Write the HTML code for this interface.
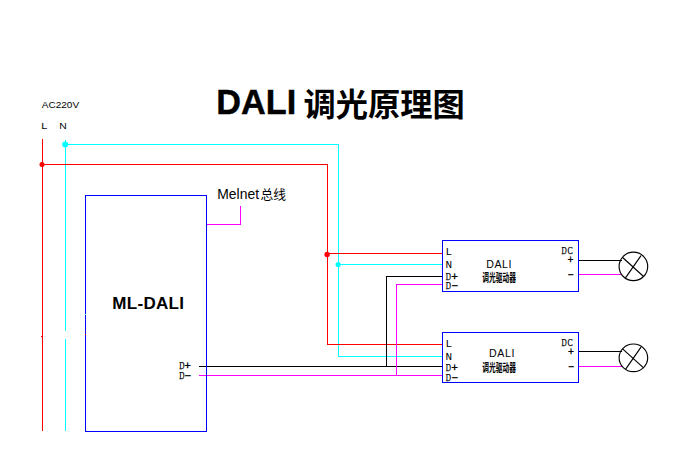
<!DOCTYPE html>
<html><head><meta charset="utf-8"><title>DALI</title>
<style>
html,body{margin:0;padding:0;background:#fff;}
body{width:687px;height:451px;overflow:hidden;font-family:"Liberation Sans",sans-serif;}
svg{display:block;}
.s{font-family:"Liberation Sans",sans-serif;}
.m{font-family:"Liberation Mono",monospace;font-size:11px;}
</style></head><body>
<svg width="687" height="451" viewBox="0 0 687 451">
<rect width="687" height="451" fill="#fff"/>
<g shape-rendering="crispEdges"><g fill="#00ffff"><rect x="65" y="140" width="1" height="191"/><rect x="65" y="339" width="1" height="92"/><rect x="65" y="144" width="274" height="1"/><rect x="338" y="144" width="1" height="213"/><rect x="338" y="264" width="105" height="1"/><rect x="338" y="356" width="105" height="1"/><rect x="85" y="314" width="1" height="1"/></g><g fill="#ff0000"><rect x="42" y="139" width="1" height="292"/><rect x="42" y="164" width="286" height="1"/><rect x="327" y="164" width="1" height="181"/><rect x="327" y="253" width="116" height="1"/><rect x="327" y="344" width="116" height="1"/><rect x="41" y="336" width="1" height="1"/><rect x="85" y="334" width="1" height="1"/></g><g fill="#000000"><rect x="199" y="366" width="244" height="1"/><rect x="386" y="276" width="1" height="91"/><rect x="386" y="276" width="57" height="1"/><rect x="578" y="260" width="44" height="1"/><rect x="578" y="351" width="44" height="1"/></g><g fill="#ff00ff"><rect x="199" y="375" width="244" height="1"/><rect x="396" y="284" width="1" height="92"/><rect x="396" y="284" width="47" height="1"/><rect x="206" y="224" width="35" height="1"/><rect x="240" y="206" width="1" height="19"/><rect x="578" y="274" width="44" height="1"/><rect x="578" y="366" width="44" height="1"/></g><g fill="#0000ff"><rect x="85" y="195" width="122" height="1"/><rect x="85" y="431" width="122" height="1"/><rect x="85" y="195" width="1" height="237"/><rect x="206" y="195" width="1" height="237"/><rect x="442" y="240" width="137" height="1"/><rect x="442" y="291" width="137" height="1"/><rect x="442" y="240" width="1" height="52"/><rect x="578" y="240" width="1" height="52"/><rect x="442" y="332" width="137" height="1"/><rect x="442" y="382" width="137" height="1"/><rect x="442" y="332" width="1" height="51"/><rect x="578" y="332" width="1" height="51"/></g><rect x="85" y="334" width="1" height="1" fill="#ff0000"/><rect x="85" y="314" width="1" height="1" fill="#00ffff"/></g>
<circle cx="42.0" cy="164.5" r="2.5" fill="#ff0000"/><circle cx="327.1" cy="254.5" r="2.7" fill="#ff0000"/><circle cx="65.2" cy="144.5" r="3" fill="#00ffff"/><circle cx="338.2" cy="264.5" r="2.6" fill="#00ffff"/>
<g fill="none" stroke="#000" stroke-width="1.15"><ellipse cx="633.4" cy="266.4" rx="14.3" ry="14.3"/><path d="M622.6 257.5L643.3 276.2M641.0 255.7L625.5 277.9"/></g><g fill="none" stroke="#000" stroke-width="1.15"><ellipse cx="633.4" cy="357.8" rx="14.3" ry="13.8"/><path d="M622.6 348.9L643.3 367.6M641.0 347.1L625.5 369.3"/></g>
<g class="s" fill="#000">
<text transform="translate(216.2 113.75) scale(1 1.035)" x="0" y="0" font-size="34.3" font-weight="bold" stroke="#000" stroke-width="0.4">DALI</text>
<text x="41.8" y="107.7" font-size="9.7" textLength="37.3" lengthAdjust="spacingAndGlyphs">AC220V</text>
<text x="41.2" y="128.8" font-size="9.7" textLength="6.0" lengthAdjust="spacingAndGlyphs">L</text>
<text x="59.3" y="128.8" font-size="9.7" textLength="7.5" lengthAdjust="spacingAndGlyphs">N</text>
<text x="217.3" y="199.0" font-size="14.6" textLength="41.7" lengthAdjust="spacingAndGlyphs">Melnet</text>
<text x="112.3" y="309" font-size="17" font-weight="bold" letter-spacing="0.3">ML-DALI</text>
<text x="486.2" y="268" font-size="10.6" letter-spacing="0.6">DALI</text>
<text x="489" y="357" font-size="10.6" letter-spacing="0.6">DALI</text>
</g>
<text x="303.5" y="115.7" font-family="&quot;Liberation Sans&quot;, &quot;Noto Sans CJK SC&quot;, sans-serif" font-size="32.3" font-weight="bold" fill="#000" textLength="161.3" lengthAdjust="spacingAndGlyphs">调光原理图</text>
<text x="260.4" y="199" font-family="&quot;Liberation Sans&quot;, &quot;Noto Sans CJK SC&quot;, sans-serif" font-size="13" fill="#000" textLength="25.5" lengthAdjust="spacingAndGlyphs">总线</text>
<text x="482.3" y="282.2" font-family="&quot;Liberation Sans&quot;, &quot;Noto Sans CJK SC&quot;, sans-serif" font-size="11.2" font-weight="bold" fill="#000" textLength="33.7" lengthAdjust="spacingAndGlyphs">调光驱动器</text>
<text x="482.3" y="371.8" font-family="&quot;Liberation Sans&quot;, &quot;Noto Sans CJK SC&quot;, sans-serif" font-size="11.2" font-weight="bold" fill="#000" textLength="33.7" lengthAdjust="spacingAndGlyphs">调光驱动器</text>
<g class="m" fill="#000">
<text x="179.20000000000002" y="368.7" font-family="Liberation Serif" font-size="10.6" stroke="#000" stroke-width="0.25" textLength="5.2" lengthAdjust="spacingAndGlyphs">D</text><text x="184.3" y="368.9" font-size="10" stroke="#000" stroke-width="0.3" textLength="6.7" lengthAdjust="spacingAndGlyphs">+</text>
<text x="179.20000000000002" y="378.7" font-family="Liberation Serif" font-size="10.6" stroke="#000" stroke-width="0.25" textLength="5.2" lengthAdjust="spacingAndGlyphs">D</text><text x="184.3" y="378.5" font-size="10" stroke="#000" stroke-width="0.3" textLength="6.7" lengthAdjust="spacingAndGlyphs">−</text>
<text x="445.4" y="255">L</text><text x="445.4" y="268.2">N</text><text x="445.79999999999995" y="279.6" font-family="Liberation Serif" font-size="10.6" stroke="#000" stroke-width="0.25" textLength="5.2" lengthAdjust="spacingAndGlyphs">D</text><text x="451.2" y="279.8" font-size="10" stroke="#000" stroke-width="0.3" textLength="6.7" lengthAdjust="spacingAndGlyphs">+</text><text x="445.79999999999995" y="288.9" font-family="Liberation Serif" font-size="10.6" stroke="#000" stroke-width="0.25" textLength="5.2" lengthAdjust="spacingAndGlyphs">D</text><text x="451.2" y="288.7" font-size="10" stroke="#000" stroke-width="0.3" textLength="6.7" lengthAdjust="spacingAndGlyphs">−</text><text x="561.4" y="254.4" font-family="Liberation Serif" font-size="10.6" stroke="#000" stroke-width="0.25" textLength="5.2" lengthAdjust="spacingAndGlyphs">D</text><text x="567.4" y="254.4" font-family="Liberation Serif" font-size="10.6" stroke="#000" stroke-width="0.25" textLength="5.2" lengthAdjust="spacingAndGlyphs">C</text><text x="567.4" y="262.6" font-size="10" stroke="#000" stroke-width="0.3">+</text><text x="567.4" y="277.8" font-size="10" stroke="#000" stroke-width="0.3">−</text>
<text x="445.4" y="346.8">L</text><text x="445.4" y="360">N</text><text x="445.79999999999995" y="371" font-family="Liberation Serif" font-size="10.6" stroke="#000" stroke-width="0.25" textLength="5.2" lengthAdjust="spacingAndGlyphs">D</text><text x="451.2" y="371.2" font-size="10" stroke="#000" stroke-width="0.3" textLength="6.7" lengthAdjust="spacingAndGlyphs">+</text><text x="445.79999999999995" y="381" font-family="Liberation Serif" font-size="10.6" stroke="#000" stroke-width="0.25" textLength="5.2" lengthAdjust="spacingAndGlyphs">D</text><text x="451.2" y="380.8" font-size="10" stroke="#000" stroke-width="0.3" textLength="6.7" lengthAdjust="spacingAndGlyphs">−</text><text x="561.4" y="346.3" font-family="Liberation Serif" font-size="10.6" stroke="#000" stroke-width="0.25" textLength="5.2" lengthAdjust="spacingAndGlyphs">D</text><text x="567.4" y="346.3" font-family="Liberation Serif" font-size="10.6" stroke="#000" stroke-width="0.25" textLength="5.2" lengthAdjust="spacingAndGlyphs">C</text><text x="568.0" y="354.8" font-size="10" stroke="#000" stroke-width="0.3">+</text><text x="568.0" y="369.7" font-size="10" stroke="#000" stroke-width="0.3">−</text>
</g>
</svg>
</body></html>
